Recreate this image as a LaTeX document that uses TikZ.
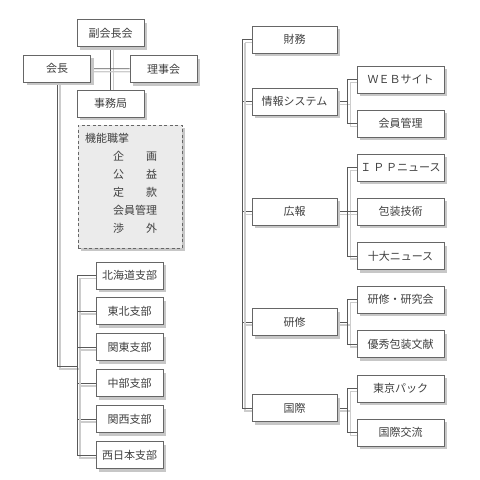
\documentclass[tikz,border=0pt]{standalone}
\usepackage{fontspec}
\newfontfamily\jpfont{Noto Sans CJK JP}
\usetikzlibrary{shadows,backgrounds}

\begin{document}
\begin{tikzpicture}[x=1pt,y=-1pt,
    box/.style={rectangle,draw=black!60,fill=white,line width=0.8pt,
      minimum width=67pt,minimum height=27pt,inner sep=0pt,
      font=\jpfont\fontsize{11}{13}\selectfont,text=black!75,
      drop shadow={shadow xshift=3pt,shadow yshift=-3pt,fill=black!22,opacity=1}},
    mainbox/.style={box,minimum width=85pt},
    subbox/.style={box,minimum width=87pt},
    dutybox/.style={box,dashed,dash pattern=on 3pt off 2.5pt,fill=black!8,
      minimum width=104pt,minimum height=123pt},
    conn/.style={draw=black!65,line width=0.8pt,
      preaction={draw=black!20,line width=1.2pt,
        transform canvas={shift={(3pt,-3pt)}}}}]
  \useasboundingbox (0,0) rectangle (480,480);

  % top of the association
  \node[box] (fukukaichou) at (110.5,33) {副会長会};
  \node[box] (kaichou) at (57,68.5) {会長};
  \node[box] (rijikai) at (163.5,69) {理事会};
  \node[box] (jimukyoku) at (110.5,103.5) {事務局};
  \node[dutybox] (kinou) at (130,186.5) {};
  \node[anchor=north west,align=left,inner sep=0pt,text=black!75,
    font=\jpfont\fontsize{11}{18}\selectfont]
    (kinoutext) at (85,133) {機能職掌\\
    \hspace{28pt}企　　画\\
    \hspace{28pt}公　　益\\
    \hspace{28pt}定　　款\\
    \hspace{28pt}会員管理\\
    \hspace{28pt}渉　　外};

  % branches
  \node[box] (hokkaido) at (129.5,275.5) {北海道支部};
  \node[box] (tohoku) at (129.5,311) {東北支部};
  \node[box] (kanto) at (129.5,347) {関東支部};
  \node[box] (chubu) at (129.5,383) {中部支部};
  \node[box] (kansai) at (129.5,419) {関西支部};
  \node[box] (nishinihon) at (129.5,455) {西日本支部};

  % committees
  \node[mainbox] (zaimu) at (294.5,39.5) {財務};
  \node[mainbox] (jouhou) at (294.5,101.5) {情報システム};
  \node[mainbox] (kouhou) at (294.5,211.5) {広報};
  \node[mainbox] (kenshuu) at (294.5,322) {研修};
  \node[mainbox] (kokusai) at (294.5,408) {国際};

  \node[subbox] (web) at (400.5,79.5) {ＷＥＢサイト};
  \node[subbox] (kaiin) at (400.5,123.5) {会員管理};
  \node[subbox] (ippnews) at (400.5,167.5) {Ｉ\,Ｐ\,Ｐニュース};
  \node[subbox] (housou) at (400.5,211.5) {包装技術};
  \node[subbox] (judai) at (400.5,256) {十大ニュース};
  \node[subbox] (kenkyuu) at (400.5,299.5) {研修・研究会};
  \node[subbox] (bunken) at (400.5,344) {優秀包装文献};
  \node[subbox] (tokyopack) at (400.5,388.5) {東京パック};
  \node[subbox] (kouryuu) at (400.5,432.5) {国際交流};

  \coordinate (lhub) at (77,366);
  \coordinate (rtop) at (242,39.5);

  \begin{scope}[on background layer]
    \draw[conn] (fukukaichou) -- (jimukyoku);
    \draw[conn] (kaichou) -- (rijikai);
    \draw[conn] (kaichou.south) |- (lhub);
    \foreach \b in {hokkaido,tohoku,kanto,chubu,kansai,nishinihon}
      \draw[conn] (lhub) |- (\b.west);
    \foreach \m in {zaimu,jouhou,kouhou,kenshuu,kokusai}
      \draw[conn] (rtop) |- (\m.west);
    \foreach \m/\s in {jouhou/web,jouhou/kaiin,kouhou/ippnews,kouhou/housou,
        kouhou/judai,kenshuu/kenkyuu,kenshuu/bunken,kokusai/tokyopack,
        kokusai/kouryuu}
      \draw[conn] (\m.east) -- ++(10,0) |- (\s.west);
  \end{scope}
\end{tikzpicture}
\end{document}
